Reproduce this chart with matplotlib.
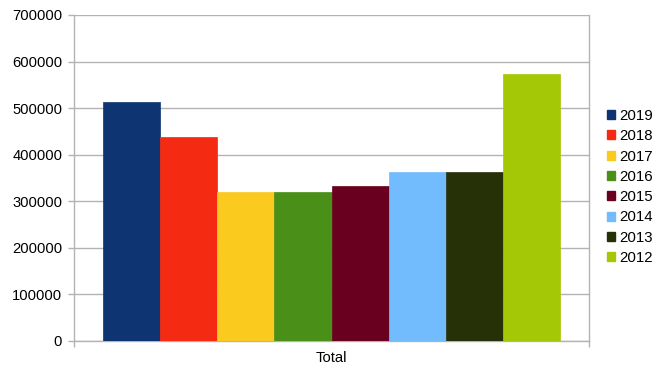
import matplotlib.pyplot as plt
from matplotlib.patches import Patch

# data
years = ["2019", "2018", "2017", "2016", "2015", "2014", "2013", "2012"]
totals = [514000, 439000, 321000, 321000, 333000, 363000, 363000, 574000]
colors = ["#0e3572", "#f52a12", "#fbca1e", "#4a8f18", "#6a001f", "#72bbfd", "#273107", "#a4c806"]
category = "Total"
yticks = [0, 100000, 200000, 300000, 400000, 500000, 600000, 700000]

plt.rcParams["font.family"] = ["Liberation Sans", "DejaVu Sans"]
plt.rcParams["font.size"] = 10.6

fig = plt.figure(figsize=(6.67, 3.75), dpi=100)
ax = fig.add_axes([74 / 667, 34 / 375, 515 / 667, 326 / 375])

n = len(years)
w = 0.889 / n
start = -w * n / 2 + w / 2
for i, (yr, v, c) in enumerate(zip(years, totals, colors)):
    ax.bar(start + i * w, v, width=w, color=c, edgecolor=c, linewidth=0.5, label=yr, zorder=3)

ax.set_xlim(-0.5, 0.5)
ax.set_ylim(0, 700000)
ax.set_yticks(yticks)
ax.set_yticklabels([str(t) for t in yticks])
ax.yaxis.grid(True, color="#b3b3b3", linewidth=1, zorder=0)

ax.set_xticks([-0.5, 0.5])
ax.set_xticklabels(["", ""])
ax.set_xticks([0], minor=True)
ax.set_xticklabels([category], minor=True)
ax.tick_params(axis="x", which="major", length=4.5, color="#b3b3b3", width=1)
ax.tick_params(axis="x", which="minor", length=0, pad=7)
ax.tick_params(axis="y", length=4.5, color="#b3b3b3", width=1, pad=4)

for s in ["left", "right", "bottom"]:
    ax.spines[s].set_color("#b3b3b3")
    ax.spines[s].set_linewidth(1)
ax.spines["top"].set_visible(False)

handles = [Patch(facecolor=c, edgecolor=c) for c in colors]
fig.legend(handles, years, loc="center left", bbox_to_anchor=(599 / 667, 1 - 187 / 375),
           frameon=False, handlelength=0.55, handleheight=0.55, handletextpad=0.3,
           labelspacing=0.42, borderpad=0, fontsize=10.8)

fig.savefig("out.png", dpi=100)
